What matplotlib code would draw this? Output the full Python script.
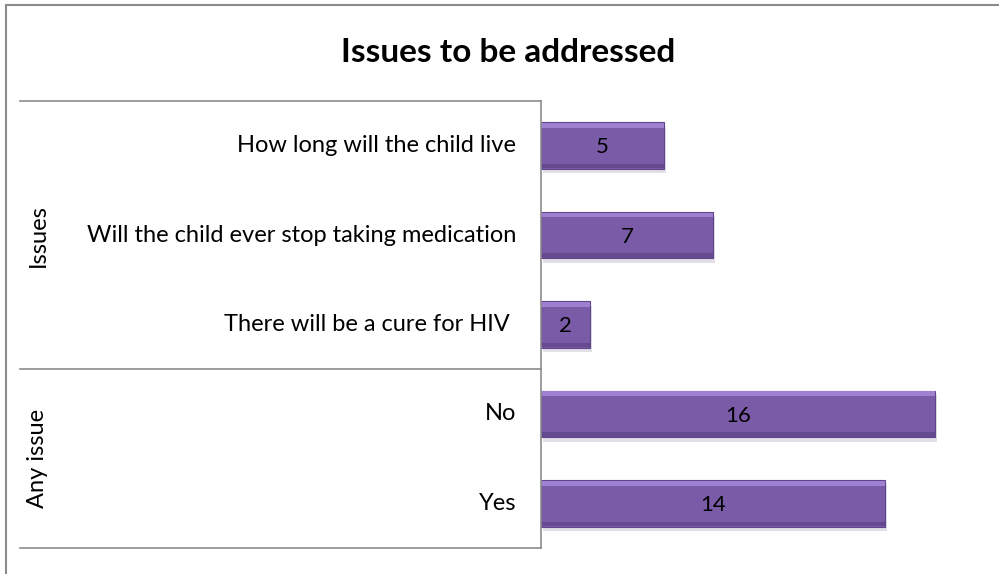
import numpy as np
import matplotlib.pyplot as plt
from matplotlib.lines import Line2D

# chart data, top to bottom
labels = ["How long will the child live",
          "Will the child ever stop taking medication",
          "There will be a cure for HIV ",
          "No",
          "Yes"]
values = [5, 7, 2, 16, 14]
groups = ["Issues", "Any issue"]
group_sizes = [3, 2]

plt.rcParams['font.family'] = ['Lato', 'DejaVu Sans']

W, H = 999, 574
fig = plt.figure(figsize=(W / 100, H / 100), dpi=100)
fig.patch.set_facecolor('white')

# axes box in pixels (left, top, right, bottom)
ax_l, ax_t, ax_r, ax_b = 541, 101, 985, 548
ax = fig.add_axes([ax_l / W, 1 - ax_b / H, (ax_r - ax_l) / W, (ax_b - ax_t) / H])
px_per_unit = 24.6
ax.set_xlim(0, (ax_r - ax_l) / px_per_unit)
ax.set_ylim(len(labels) - 0.5, -0.5)
ax.axis('off')

y = np.arange(len(labels))
bh = 0.52
# soft shadow, main bar, bevel highlights
ax.barh(y + 0.05, values, height=bh, left=0.08, color='#e2e0e6', zorder=1)
ax.barh(y, values, height=bh, color='#7a5ba8', edgecolor='#5f4589', linewidth=0.8, zorder=2)
ax.barh(y - bh / 2 + 0.035, values, height=0.055, color='#9d80cf', linewidth=0, zorder=3)
ax.barh(y + bh / 2 - 0.03, values, height=0.05, color='#654a91', linewidth=0, zorder=3)
for yi, v in zip(y, values):
    ax.text(v / 2, yi + 0.02, str(v), ha='center', va='center', fontsize=16, color='black', zorder=4)

# category table on the left (figure pixel coordinates)
def fx(px):
    return px / W

def fy(px):
    return 1 - px / H

row_h = (ax_b - ax_t) / len(labels)
for i, lab in enumerate(labels):
    fig.text(fx(516), fy(ax_t + (i + 0.5) * row_h), lab, ha='right', va='center', fontsize=17)

lc = '#8c8c8c'
start = 0
bounds = [ax_t]
for g, n in zip(groups, group_sizes):
    mid = ax_t + (start + n / 2) * row_h
    fig.text(fx(38), fy(mid), g, rotation=90, ha='center', va='center', fontsize=17)
    start += n
    bounds.append(ax_t + start * row_h)
for b in bounds:
    fig.add_artist(Line2D([fx(20), fx(ax_l)], [fy(b), fy(b)], color=lc, lw=1.2))
fig.add_artist(Line2D([fx(ax_l), fx(ax_l)], [fy(ax_t), fy(ax_b)], color=lc, lw=1.2))

# outer chart frame (top and left visible)
fig.add_artist(Line2D([fx(6), fx(998)], [fy(5), fy(5)], color=lc, lw=1.5))
fig.add_artist(Line2D([fx(6), fx(6)], [fy(5), fy(574)], color=lc, lw=1.5))

fig.text(fx(508), fy(52), "Issues to be addressed", ha='center', va='center',
         fontsize=24, fontweight='bold')

fig.savefig('out.png', dpi=100)
